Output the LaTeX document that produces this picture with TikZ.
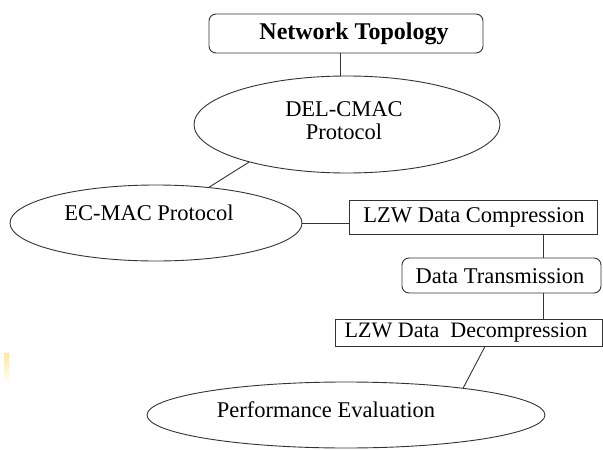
\documentclass[tikz,border=0pt]{standalone}
\usepackage{fontspec}
\setmainfont{Liberation Serif}
\usetikzlibrary{shapes.geometric,calc}
\tikzset{
  conn/.style={draw=black!80, line width=0.9pt},
  ell/.style={ellipse, draw=black!80, line width=0.9pt, inner sep=0pt},
  sqbox/.style={rectangle, draw=black!80, line width=0.9pt, inner sep=0pt},
  rbox/.style={rectangle, rounded corners=7pt, draw=black!80, line width=0.9pt, inner sep=0pt},
  lbl/.style={font=\rmfamily\fontsize{22.5}{23}\selectfont, inner sep=0pt, align=center}
}
\begin{document}
\begin{tikzpicture}[x=1pt,y=-1pt]
\useasboundingbox (0,0) rectangle (603,450);
% faint mark at left
\shade[top color=yellow!45!orange!35, bottom color=white] (4,353) rectangle (9,384);

\node[rbox, minimum width=274pt, minimum height=39pt] (net) at (346,33.5) {};
\node[lbl, font=\rmfamily\fontsize{24}{26}\selectfont\bfseries] (nettext) at (354,34) {Network Topology};

\node[ell, minimum width=306pt, minimum height=97pt] (del) at (347,124.5) {};
\node[lbl] (deltext) at (344,121) {DEL-CMAC\\Protocol};

\node[ell, minimum width=292pt, minimum height=76pt] (ecmac) at (156,223) {};
\node[lbl] (ecmactext) at (149,213) {EC-MAC Protocol};

\node[sqbox, minimum width=248pt, minimum height=34pt] (comp) at (473,217) {};
\node[lbl] (comptext) at (474,217) {LZW Data Compression};

\node[rbox, minimum width=199pt, minimum height=35pt] (trans) at (501.5,275.5) {};
\node[lbl] (transtext) at (500,276) {Data Transmission};

\node[sqbox, minimum width=267pt, minimum height=27pt] (decomp) at (468.5,332.5) {};
\node[lbl, font=\rmfamily\fontsize{22}{23}\selectfont] (decomptext) at (466,333) {LZW Data\ \ Decompression};

\node[ell, minimum width=398pt, minimum height=66pt] (perf) at (346,415) {};
\node[lbl] (perftext) at (326,410) {Performance Evaluation};

\coordinate (vt) at (340,0);
\coordinate (vx) at (543,0);

\draw[conn] (net.south -| vt) -- (del.north -| vt);
\draw[conn] (del.201) -- (ecmac.34);
\draw[conn] (ecmac.east) -- (ecmac.east -| comp.west);
\draw[conn] (comp.south -| vx) -- (trans.north -| vx);
\draw[conn] (trans.south -| vx) -- (decomp.north -| vx);
\draw[conn] ($(decomp.south)+(16.5,0)$) -- (perf.13);
\end{tikzpicture}
\end{document}
